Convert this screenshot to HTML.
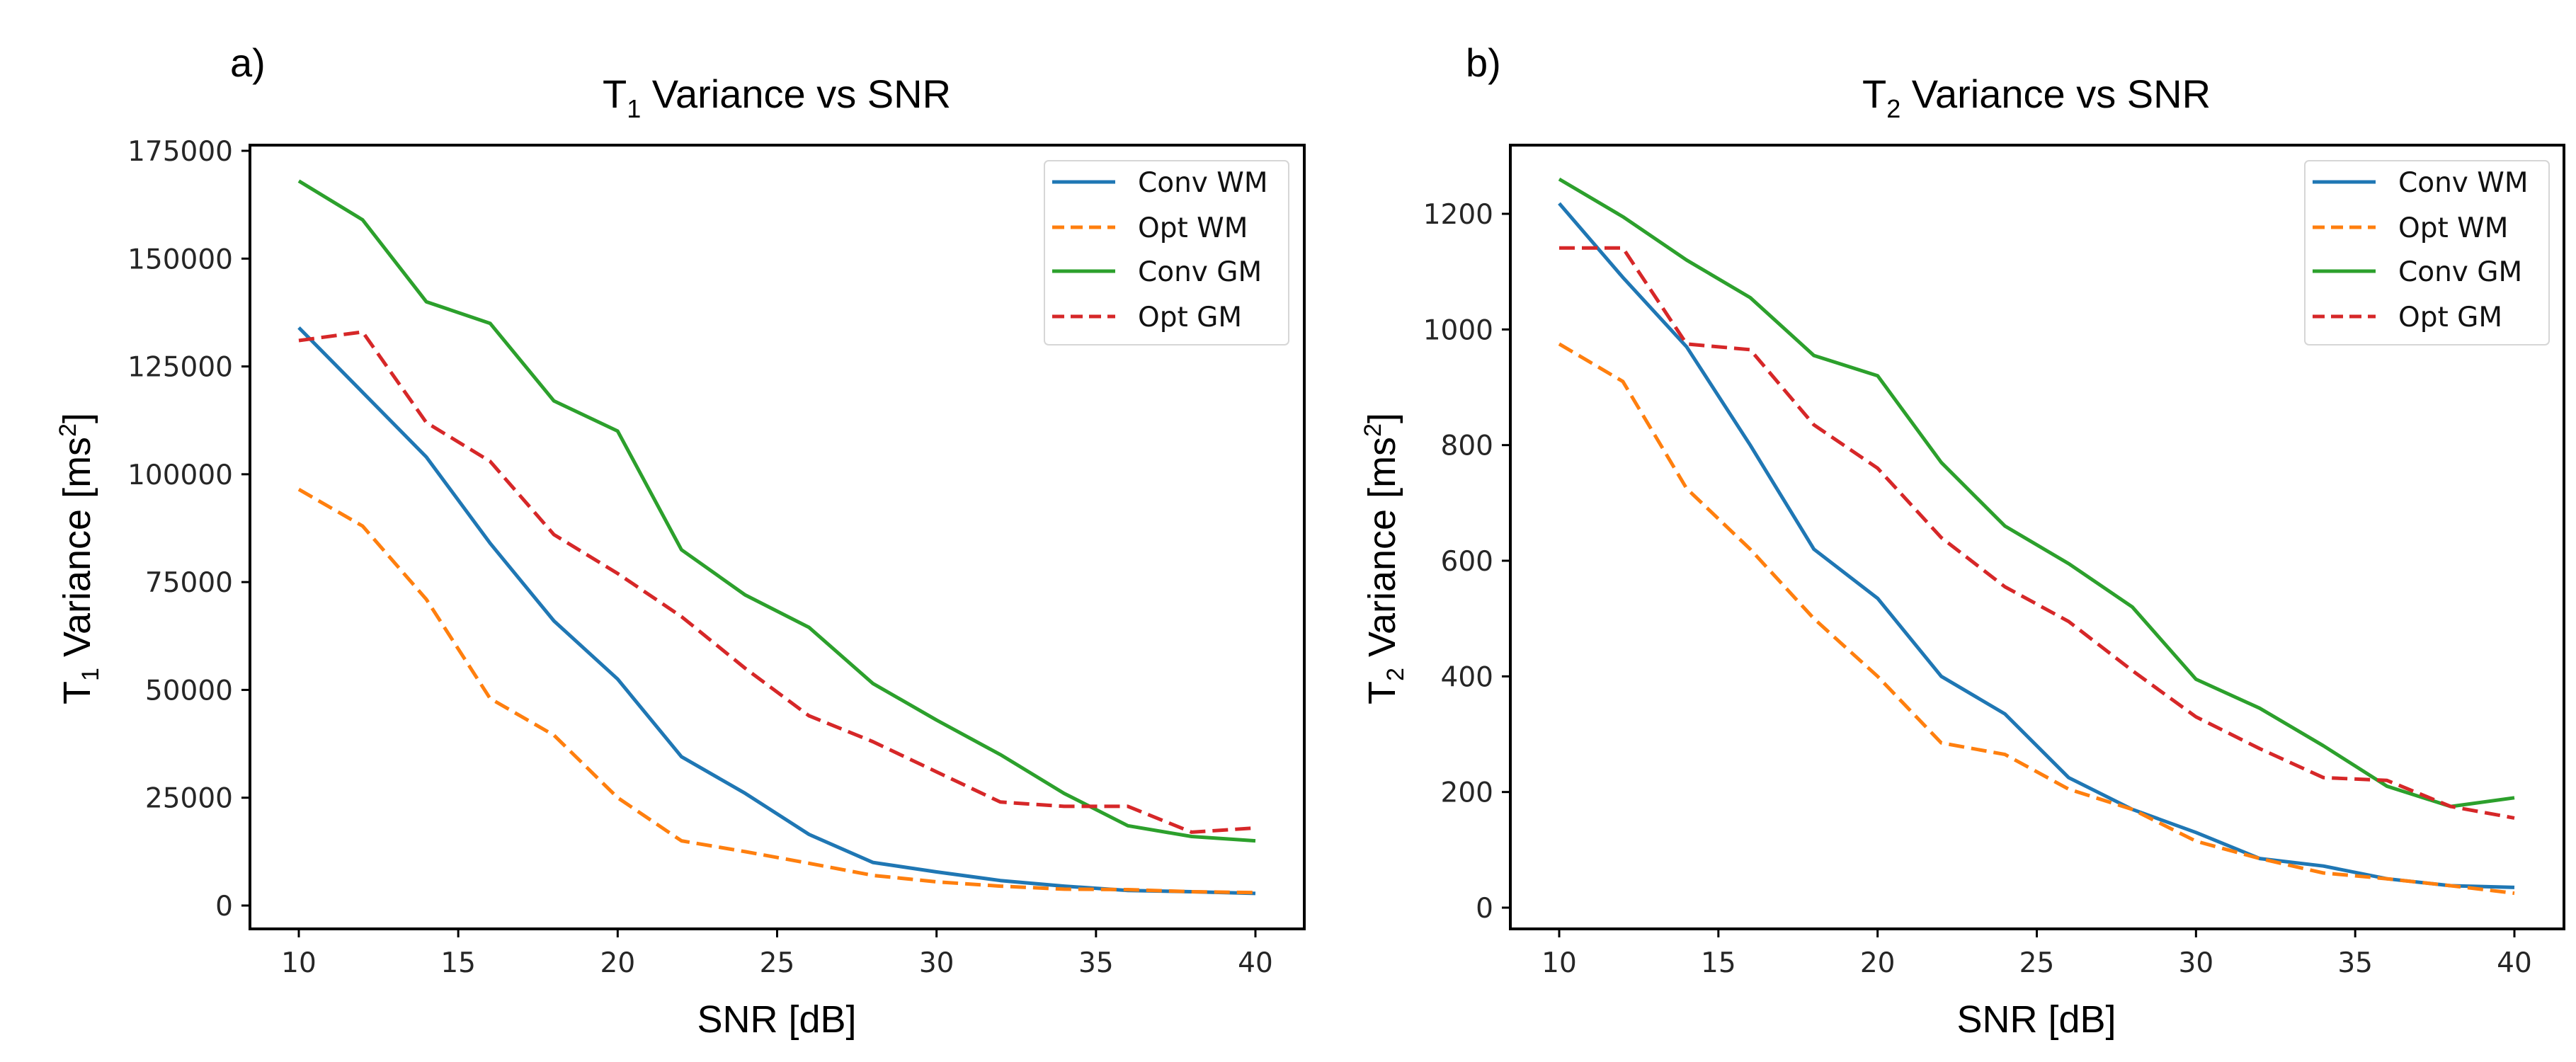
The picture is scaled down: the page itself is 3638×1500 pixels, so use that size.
<!DOCTYPE html>
<html><head><meta charset="utf-8"><style>
html,body{margin:0;padding:0;background:#fff;}
svg{display:block;}
.tick{font-family:"DejaVu Sans","Liberation Sans",sans-serif;font-size:39px;fill:#262626;}
.leg{font-family:"DejaVu Sans","Liberation Sans",sans-serif;font-size:39px;fill:#111;}
.lab{font-family:"Liberation Sans Narrow","Liberation Sans",sans-serif;font-size:54px;fill:#000;}
.ttl{font-family:"Liberation Sans Narrow","Liberation Sans",sans-serif;font-size:56px;fill:#000;}
</style></head><body>
<svg id="fig" width="3638" height="1500" viewBox="0 0 3638 1500" xmlns="http://www.w3.org/2000/svg">
<text class="ttl" x="325" y="108">a)</text>
<text class="ttl" x="2070" y="108">b)</text>
<text class="ttl" x="1097" y="152" text-anchor="middle">T<tspan font-size="36" dy="14">1</tspan><tspan dy="-14"> Variance vs SNR</tspan></text>
<text class="ttl" x="2876" y="152" text-anchor="middle">T<tspan font-size="36" dy="14">2</tspan><tspan dy="-14"> Variance vs SNR</tspan></text>
<text class="lab" x="1097" y="1458" text-anchor="middle">SNR [dB]</text>
<text class="lab" x="2876" y="1458" text-anchor="middle">SNR [dB]</text>
<text class="lab" transform="translate(127,789) rotate(-90)" text-anchor="middle">T<tspan font-size="34" dy="12">1</tspan><tspan dy="-12"> Variance [ms</tspan><tspan font-size="34" dy="-20">2</tspan><tspan dy="20">]</tspan></text>
<text class="lab" transform="translate(1970,789) rotate(-90)" text-anchor="middle">T<tspan font-size="34" dy="12">2</tspan><tspan dy="-12"> Variance [ms</tspan><tspan font-size="34" dy="-20">2</tspan><tspan dy="20">]</tspan></text>
<g id="p1"></g>
<g id="p2"></g>
</svg>
<script>
const snr = [10,12,14,16,18,20,22,24,26,28,30,32,34,36,38,40];
const xTicks = [10,15,20,25,30,35,40];
const t1YTicks = [0,25000,50000,75000,100000,125000,150000,175000];
const t2YTicks = [0,200,400,600,800,1000,1200];
const seriesNames = ["Conv WM","Opt WM","Conv GM","Opt GM"];
const t1ConvWM = [134000,119000,104000,84000,66000,52500,34500,26000,16500,10000,7800,5800,4500,3500,3200,2800];
const t1OptWM = [96500,88000,71000,48000,39500,25000,15000,12500,9800,7000,5500,4500,3800,3700,3200,3000];
const t1ConvGM = [168000,159000,140000,135000,117000,110000,82500,72000,64500,51500,43000,35000,26000,18500,16000,15000];
const t1OptGM = [131000,133000,112000,103000,86000,77000,67000,55000,44000,38000,31000,24000,23000,23000,17000,18000];
const t2ConvWM = [1218,1090,970,800,620,535,400,335,225,170,130,85,72,50,38,35];
const t2OptWM = [975,910,725,620,500,400,285,265,205,170,115,85,60,50,38,25];
const t2ConvGM = [1260,1195,1120,1055,955,920,770,660,595,520,395,345,280,210,175,190];
const t2OptGM = [1141,1141,975,965,835,760,640,555,495,410,330,275,225,220,175,155];

const colors = ["#1f77b4","#ff7f0e","#2ca02c","#d62728"];
const dashed = [false,true,false,true];
const NS = "http://www.w3.org/2000/svg";
function mk(tag, attrs, parent){const e=document.createElementNS(NS,tag);for(const k in attrs)e.setAttribute(k,attrs[k]);parent.appendChild(e);return e;}

function drawPlot(g, frame, yMax, yTicks, series, key, legX){
  const x0=frame.l, x1=frame.r, y0=frame.t, y1=frame.b;
  const xs = v => frame.x10 + (v-10)*(frame.x40-frame.x10)/30;
  const ys = v => frame.y0 - v*(frame.y0-frame.yTop)/yMax;
  series.forEach((s,i)=>{
    const d = s.map((v,j)=>(j?"L":"M")+xs(snr[j]).toFixed(1)+","+ys(v).toFixed(1)).join(" ");
    const p = mk("path",{d:d,fill:"none",stroke:colors[i],"stroke-width":5,"stroke-linejoin":"round"},g);
    if(dashed[i]) p.setAttribute("stroke-dasharray","22 10");
    
    
  });
  const fr = mk("rect",{x:x0,y:y0,width:x1-x0,height:y1-y0,fill:"none",stroke:"#000","stroke-width":4},g);
  
  
  xTicks.forEach(t=>{
    const x=xs(t);
    mk("line",{x1:x,x2:x,y1:y1,y2:y1+12,stroke:"#000","stroke-width":3},g);
    const tx = mk("text",{x:x,y:1373,"text-anchor":"middle",class:"tick"},g);
    tx.textContent=t;
    
    
  });
  yTicks.forEach(t=>{
    const y=ys(t);
    mk("line",{x1:x0-12,x2:x0,y1:y,y2:y,stroke:"#000","stroke-width":3},g);
    const tx = mk("text",{x:x0-24,y:y+14,"text-anchor":"end",class:"tick"},g);
    tx.textContent=t;
    
    
  });
  const lg = mk("g",{},g);
  
  
  mk("rect",{x:legX,y:227,width:345,height:260,rx:6,fill:"#fff","fill-opacity":0.8,stroke:"#d6d6d6","stroke-width":2},lg);
  const ey=[257,321,383,447];
  seriesNames.forEach((n,i)=>{
    const l = mk("line",{x1:legX+11,x2:legX+100,y1:ey[i],y2:ey[i],stroke:colors[i],"stroke-width":5},lg);
    if(dashed[i]) l.setAttribute("stroke-dasharray","17 9");
    const t = mk("text",{x:legX+132,y:ey[i]+14,class:"leg"},lg);
    t.textContent=n;
    
    
  });
}
drawPlot(document.getElementById("p1"),
  {l:353,r:1842,t:205,b:1312,x10:422,x40:1773,y0:1279,yTop:213},
  175000, t1YTicks, [t1ConvWM,t1OptWM,t1ConvGM,t1OptGM], "t1", 1475);
drawPlot(document.getElementById("p2"),
  {l:2133,r:3621,t:205,b:1312,x10:2202,x40:3551,y0:1282,yTop:302},
  1200, t2YTicks, [t2ConvWM,t2OptWM,t2ConvGM,t2OptGM], "t2", 3255);
</script>
</body></html>
